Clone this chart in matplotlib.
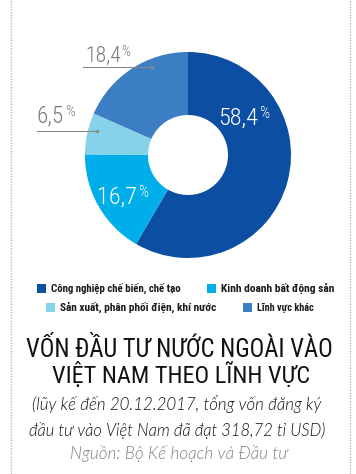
import matplotlib
matplotlib.use("Agg")
import matplotlib.pyplot as plt
from matplotlib import font_manager as fm
from matplotlib.font_manager import FontProperties

categories = ["Công nghiệp chế biến, chế tạo", "Kinh doanh bất động sản",
              "Sản xuất, phân phối điện, khí nước", "Lĩnh vực khác"]
values = [58.4, 16.7, 6.5, 18.4]
value_labels = ["58,4", "16,7", "6,5", "18,4"]
colors = ["#0b4ea2", "#00aeea", "#86d2ea", "#3b7ec4"]
explode = [0, 0.06, 0, 0]

title_lines = ["VỐN ĐẦU TƯ NƯỚC NGOÀI VÀO", "VIỆT NAM THEO LĨNH VỰC"]
subtitle_lines = ["(lũy kế đến 20.12.2017, tổng vốn đăng ký",
                  "đầu tư vào Việt Nam đã đạt 318,72 tỉ USD)"]
source = "Nguồn: Bộ Kế hoạch và Đầu tư"


def wnum(w):
    try:
        return int(w)
    except Exception:
        return {"light": 300, "normal": 400, "regular": 400, "medium": 500,
                "semibold": 600, "bold": 700}.get(str(w), 400)


STRETCH = {"ultra-condensed": 1, "extra-condensed": 2, "condensed": 3,
           "semi-condensed": 4}


def srank(f):
    st = f.stretch
    if isinstance(st, (int, float)):
        return {50: 1, 62: 2, 62.5: 2, 75: 3, 87: 4, 87.5: 4}.get(st, 5)
    st = str(st).lower()
    if st in STRETCH:
        return STRETCH[st]
    n = f.name.lower()
    if "extracondensed" in n.replace(" ", "") or "extra condensed" in n:
        return 2
    if "semicondensed" in n.replace(" ", ""):
        return 4
    if "condensed" in n or "narrow" in n:
        return 3
    return 9


def condensed_font(weight, want, style="normal"):
    cands = []
    for f in fm.fontManager.ttflist:
        n = f.name
        if "CJK" in n or "Mono" in n or f.style != style:
            continue
        r = srank(f)
        if r >= 9:
            continue
        cands.append((abs(r - want), abs(wnum(f.weight) - weight),
                      0 if "Roboto" in n else 1, f))
    if cands:
        cands.sort(key=lambda t: t[:3])
        return FontProperties(fname=cands[0][3].fname)
    return FontProperties(family="Lato", weight=weight, style=style)


F_pct = condensed_font(300, 3)
F_leg = condensed_font(700, 2)
F_title = condensed_font(400, 3)
F_sub = FontProperties(family="Lato", weight=300, style="italic")

W, H = 356, 474
fig = plt.figure(figsize=(W / 100, H / 100), dpi=100)

# pie in its own square axes (pixel units), drawn below the text layer
cx, cy, R, r_in = 188, 155, 103, 40
S = 280
pax = fig.add_axes([(cx - S / 2) / W, (H - cy - S / 2) / H, S / W, S / H])
pax.pie(values, colors=colors, explode=explode, startangle=90, counterclock=False,
        radius=R, center=(0, 0), wedgeprops=dict(width=R - r_in, linewidth=0))
pax.set_xlim(-S / 2, S / 2)
pax.set_ylim(-S / 2, S / 2)
pax.set_aspect("equal")
pax.axis("off")
pax.set_zorder(1)

ax = fig.add_axes([0, 0, 1, 1])
ax.set_xlim(0, W)
ax.set_ylim(0, H)
ax.axis("off")
ax.set_zorder(2)
ax.patch.set_alpha(0)
renderer = fig.canvas.get_renderer()


def Y(yp):
    return H - yp


# dotted borders
for xb in (11, 350):
    ax.plot([xb, xb], [0, H], color="#b8b8b8", lw=1, ls=(0, (1, 1)))


def fit_text(x, yb, txt, width, fp, color, ha="left", size0=12):
    t = ax.text(x, Y(yb), txt, fontproperties=fp, fontsize=size0, color=color,
                ha=ha, va="baseline")
    w = t.get_window_extent(renderer).width
    t.set_fontsize(size0 * width / w)
    return t


def pct(x, yb, txt, width, color):
    t = fit_text(x, yb, txt, width, F_pct, color)
    bb = t.get_window_extent(renderer)
    s = t.get_fontsize()
    ax.text(bb.x1 + 1, Y(yb) + s * 0.71 * 100 / 72 + 1.5, "%", color=color,
            fontproperties=F_pct, fontsize=s * 0.65, ha="left", va="top")


pct(218, 125, value_labels[0], 40, "white")
pct(97, 204, value_labels[1], 40, "white")
pct(85, 62, value_labels[3], 36, "#7a7a7a")
pct(37, 123, value_labels[2], 27, "#7a7a7a")

# leader lines
ax.plot([83, 152], [Y(67), Y(67)], color="#8a8a8a", lw=0.8)
ax.plot([37, 97], [Y(131), Y(131)], color="#8a8a8a", lw=0.8)
ax.plot([152], [Y(67)], "o", color="#8a8a8a", ms=1.5)
ax.plot([97], [Y(131)], "o", color="#8a8a8a", ms=1.5)

# legend: (square x, center y, index, text width)
leg = [(37, 288, 0, 131), (207, 288, 1, 114), (46, 307, 2, 157), (243, 307, 3, 57)]
for (x, y, i, tw) in leg:
    ax.add_patch(plt.Rectangle((x, Y(y) - 4.5), 9, 9, color=colors[i], lw=0))
    fit_text(x + 14, y + 4, categories[i], tw, F_leg, "#1a1a1a")

# title
fit_text(W / 2 + 1, 357, title_lines[0], 308, F_title, "#111111", ha="center", size0=16)
fit_text(W / 2 + 3, 383, title_lines[1], 258, F_title, "#111111", ha="center", size0=16)
fit_text(W / 2 - 1, 410, subtitle_lines[0], 289, F_sub, "#111111", ha="center")
fit_text(W / 2 - 1, 436, subtitle_lines[1], 296, F_sub, "#111111", ha="center")
fit_text(W / 2 + 1, 459, source, 218, F_sub, "#808080", ha="center")

fig.savefig("out.png", dpi=100)
